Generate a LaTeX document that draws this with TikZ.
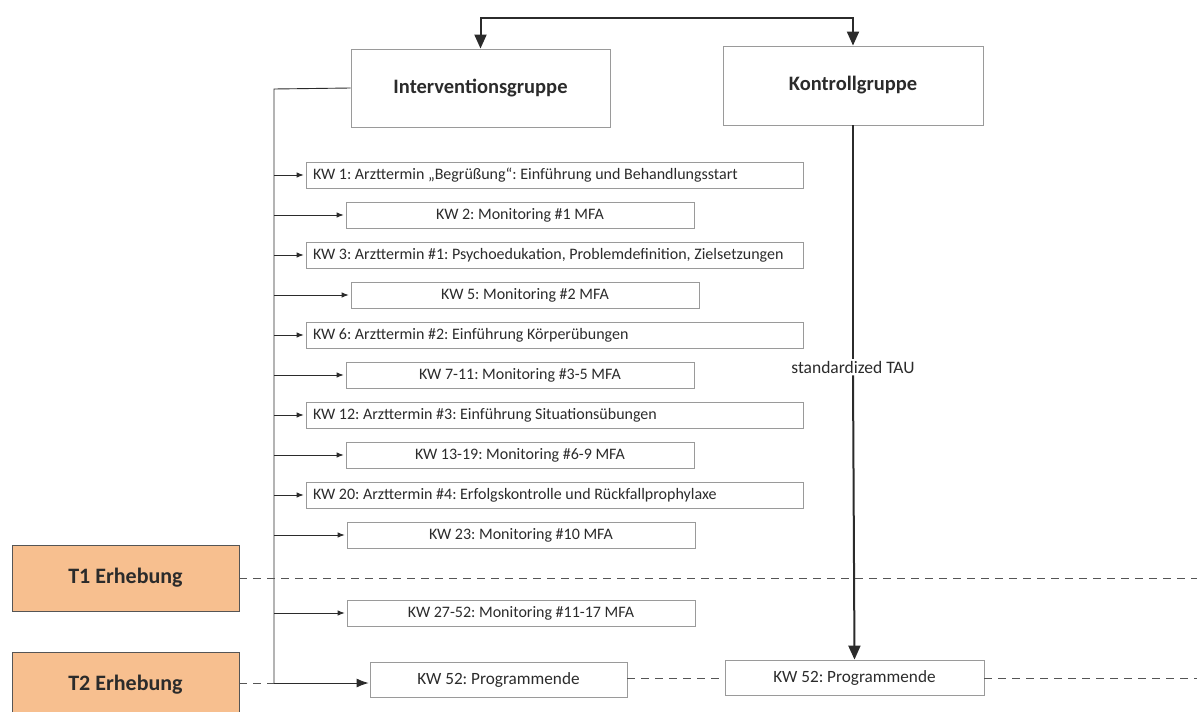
\documentclass[tikz,border=0pt]{standalone}
\usepackage{fontspec}
\setmainfont{Carlito}
\usetikzlibrary{arrows.meta}
\definecolor{tbox}{HTML}{F7BF8F}
\definecolor{boxline}{HTML}{9A9A9A}
\definecolor{ink}{HTML}{2B2B2B}
\frenchspacing
% one-line, left-aligned label of fixed width
\newcommand{\aptline}[1]{\makebox[483pt][l]{#1}}
\begin{document}
\begin{tikzpicture}[x=1pt,y=-1pt,
  every node/.style={inner sep=0pt,text=ink},
  grp/.style={draw=boxline,line width=0.9pt,font=\fontsize{20.5}{24}\selectfont\bfseries},
  tstep/.style={draw=ink!80,line width=0.9pt,fill=tbox,minimum width=227pt,minimum height=66pt,
    font=\fontsize{22}{26}\selectfont\bfseries},
  apt/.style={draw=boxline,line width=0.7pt,minimum height=26pt,inner xsep=7pt,
    font=\fontsize{16}{19}\selectfont},
  mon/.style={draw=boxline,line width=0.7pt,minimum height=26pt,minimum width=348pt,
    font=\fontsize{16}{19}\selectfont},
  endbox/.style={draw=boxline,line width=0.8pt,minimum height=35pt,minimum width=258pt,
    font=\fontsize{17.2}{20}\selectfont},
  trunk/.style={draw=ink,line width=0.9pt},
  feed/.style={trunk,-{Latex[length=7pt,width=5.5pt]},shorten >=2pt},
  heavy/.style={draw=ink,line width=2pt},
  timeline/.style={draw=ink!80,line width=0.8pt,dash pattern=on 8pt off 6pt}]
\useasboundingbox (0,0) rectangle (1197,712);

% group boxes
\node[grp,minimum width=259pt,minimum height=78pt] (ig) at (480.5,88) {Interventionsgruppe};
\node[grp,minimum width=260pt,minimum height=79pt] (kg) at (853,85.5) {Kontrollgruppe};

% randomisation split
\draw[heavy,{Triangle[length=14pt,width=12pt]}-{Triangle[length=14pt,width=12pt]}]
  (ig.north) -- ++(0,-31) -| (kg.north);

% intervention schedule
\node[apt] (a1) at (554.5,175) {\aptline{KW 1: Arzttermin „Begrüßung“: Einführung und Behandlungsstart}};
\node[mon] (m1) at (520,215) {KW 2: Monitoring \#1 MFA};
\node[apt] (a2) at (554.5,255) {\aptline{KW 3: Arzttermin \#1: Psychoedukation, Problemdefinition, Zielsetzungen}};
\node[mon] (m2) at (525,295) {KW 5: Monitoring \#2 MFA};
\node[apt] (a3) at (554.5,335) {\aptline{KW 6: Arzttermin \#2: Einführung Körperübungen}};
\node[mon] (m3) at (520,375) {KW 7-11: Monitoring \#3-5 MFA};
\node[apt] (a4) at (554.5,415) {\aptline{KW 12: Arzttermin \#3: Einführung Situationsübungen}};
\node[mon] (m4) at (520,455) {KW 13-19: Monitoring \#6-9 MFA};
\node[apt] (a5) at (554.5,495) {\aptline{KW 20: Arzttermin \#4: Erfolgskontrolle und Rückfallprophylaxe}};
\node[mon] (m5) at (521,535) {KW 23: Monitoring \#10 MFA};
\node[mon] (m6) at (521,613) {KW 27-52: Monitoring \#11-17 MFA};

% programme ends
\node[endbox,minimum width=257pt] (e1) at (498.5,679.5) {KW 52: Programmende};
\node[endbox,minimum width=259pt] (e2) at (854.5,677.5) {KW 52: Programmende};

% assessment points
\node[tstep] (t1) at (125.5,578) {T1 Erhebung};
\node[tstep] (t2) at (125.5,685) {T2 Erhebung};

% trunk of the intervention arm
\coordinate (tr) at (274,89);
\coordinate (trb) at (274,683);
\draw[trunk] (ig.west) -- (tr) -- (trb);
\foreach \b in {a1,m1,a2,m2,a3,m3,a4,m4,a5,m5,m6}
  \draw[feed] (tr |- \b.west) -- (\b.west);
\draw[trunk,-{Latex[length=12pt,width=9pt]},shorten >=1pt] (trb) -- (trb -| e1.west);

% control arm
\node[font=\fontsize{17.5}{20}\selectfont,fill=white,inner sep=2pt] (tau) at (853,367) {standardized TAU};
\draw[heavy] (kg.south) -- (tau.north);
\draw[heavy,-{Triangle[length=14pt,width=12pt]}] (tau.south) -- (e2.north);

% measurement time lines
\coordinate (r1) at (1197,578);
\coordinate (r2) at (1197,678);
\draw[timeline] (t1.east) -- (r1);
\draw[timeline] (t2.east |- trb) -- (trb);
\draw[timeline] (e1.east |- r2) -- (e2.west |- r2);
\draw[timeline] (e2.east |- r2) -- (r2);
\end{tikzpicture}
\end{document}
